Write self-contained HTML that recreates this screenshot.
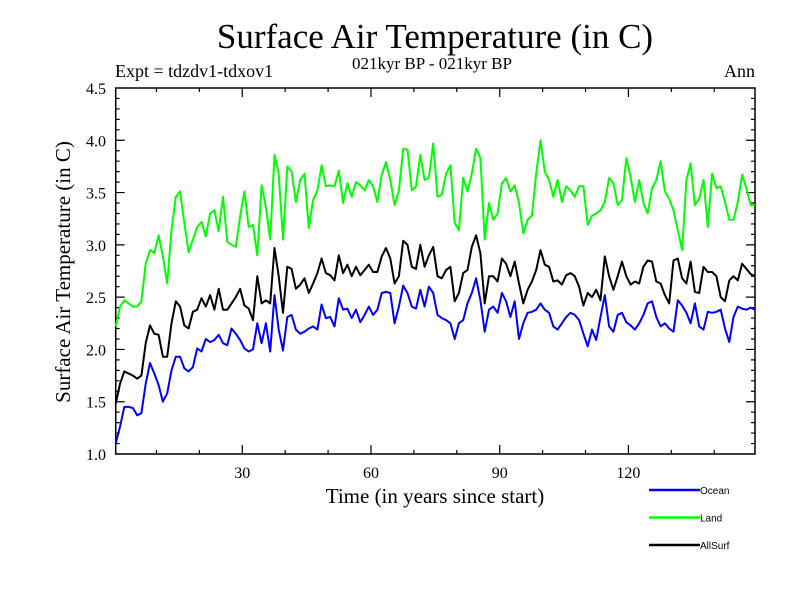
<!DOCTYPE html>
<html><head><meta charset="utf-8"><style>
body{margin:0;background:#fff;}
svg text{font-family:"Liberation Serif",serif;fill:#000;}
</style></head><body>
<svg id="chart" width="800" height="600" xmlns="http://www.w3.org/2000/svg">
<text x="435" y="48" font-size="35" text-anchor="middle">Surface Air Temperature (in C)</text>
<text x="432" y="69" font-size="17" text-anchor="middle">021kyr BP - 021kyr BP</text>
<text x="115" y="77" font-size="18">Expt = tdzdv1-tdxov1</text>
<text x="755" y="77" font-size="18" text-anchor="end">Ann</text>
<text x="435" y="503" font-size="21" text-anchor="middle">Time (in years since start)</text>
<text transform="translate(70,272) rotate(-90)" font-size="21" text-anchor="middle">Surface Air Temperature (in C)</text>
<g id="axes"></g>
<g id="series"></g>
<g id="legend" font-family="Liberation Sans"></g>
</svg>
<script>
const categoriesStart = 0.5;
const ocean = [1.10,1.26,1.45,1.45,1.44,1.37,1.39,1.67,1.87,1.77,
1.66,1.50,1.58,1.80,1.93,1.93,1.82,1.79,1.83,2.01,
1.98,2.10,2.07,2.09,2.14,2.06,2.04,2.20,2.15,2.09,
2.01,1.98,2.00,2.25,2.06,2.25,1.98,2.52,2.19,1.99,
2.31,2.33,2.19,2.15,2.17,2.20,2.22,2.19,2.43,2.30,
2.31,2.22,2.49,2.38,2.39,2.30,2.38,2.26,2.33,2.41,
2.33,2.38,2.54,2.55,2.54,2.25,2.41,2.61,2.54,2.41,
2.39,2.57,2.41,2.60,2.54,2.33,2.30,2.28,2.25,2.10,
2.25,2.28,2.44,2.54,2.68,2.47,2.17,2.38,2.41,2.35,
2.54,2.46,2.31,2.46,2.10,2.25,2.35,2.36,2.38,2.44,
2.38,2.35,2.22,2.19,2.25,2.31,2.35,2.33,2.28,2.15,
2.03,2.19,2.09,2.31,2.52,2.22,2.17,2.33,2.35,2.26,
2.23,2.19,2.25,2.33,2.44,2.46,2.31,2.22,2.25,2.20,
2.17,2.47,2.42,2.35,2.25,2.44,2.22,2.19,2.36,2.35,
2.36,2.38,2.20,2.07,2.31,2.41,2.39,2.38,2.40,2.38];
const land = [2.22,2.41,2.47,2.44,2.41,2.41,2.46,2.82,2.95,2.92,
3.09,2.89,2.63,3.14,3.46,3.51,3.21,2.93,3.05,3.17,
3.22,3.08,3.30,3.33,3.13,3.46,3.03,3.00,2.98,3.27,
3.51,3.17,3.19,2.90,3.57,3.36,3.05,3.86,3.68,3.05,
3.75,3.70,3.41,3.62,3.68,3.16,3.43,3.52,3.76,3.56,
3.57,3.56,3.71,3.40,3.59,3.46,3.60,3.57,3.52,3.62,
3.56,3.41,3.67,3.79,3.62,3.38,3.52,3.92,3.91,3.52,
3.56,3.86,3.62,3.64,3.97,3.46,3.48,3.68,3.76,3.21,
3.14,3.64,3.51,3.68,3.92,3.83,3.05,3.40,3.24,3.30,
3.59,3.64,3.51,3.57,3.40,3.11,3.24,3.28,3.68,4.00,
3.70,3.62,3.46,3.62,3.41,3.56,3.52,3.46,3.56,3.56,
3.19,3.28,3.30,3.33,3.41,3.64,3.59,3.38,3.43,3.83,
3.65,3.41,3.62,3.40,3.30,3.54,3.62,3.80,3.51,3.44,
3.33,3.14,2.95,3.62,3.78,3.38,3.44,3.62,3.17,3.68,
3.54,3.56,3.41,3.24,3.24,3.41,3.67,3.54,3.38,3.38];
const allSurf = [1.48,1.67,1.79,1.77,1.75,1.72,1.75,2.06,2.23,2.15,
2.14,1.93,1.93,2.25,2.46,2.41,2.23,2.20,2.36,2.38,
2.49,2.41,2.52,2.38,2.58,2.38,2.38,2.44,2.50,2.58,
2.42,2.39,2.28,2.70,2.44,2.47,2.44,2.97,2.70,2.35,
2.79,2.77,2.58,2.62,2.68,2.54,2.63,2.73,2.87,2.73,
2.71,2.66,2.90,2.73,2.81,2.70,2.79,2.71,2.76,2.81,
2.74,2.74,2.89,2.97,2.87,2.63,2.70,3.04,3.00,2.79,
2.77,3.00,2.79,2.90,2.98,2.70,2.68,2.76,2.79,2.46,
2.54,2.73,2.76,2.98,3.09,2.92,2.44,2.70,2.70,2.65,
2.87,2.82,2.70,2.84,2.63,2.44,2.57,2.65,2.76,2.95,
2.81,2.79,2.65,2.66,2.62,2.71,2.73,2.70,2.60,2.42,
2.54,2.50,2.57,2.47,2.89,2.70,2.57,2.70,2.84,2.70,
2.62,2.65,2.63,2.79,2.85,2.84,2.65,2.63,2.52,2.44,
2.85,2.87,2.68,2.63,2.84,2.55,2.54,2.79,2.74,2.74,
2.70,2.50,2.46,2.66,2.70,2.66,2.82,2.77,2.72,2.70];
const xTickLabels = [30,60,90,120];
const yTickLabels = ["1.0","1.5","2.0","2.5","3.0","3.5","4.0","4.5"];
const seriesNames = ["Ocean","Land","AllSurf"];

const L=115.7,R=755,T=88,B=454, X0=0.5,X1=149.5, Y0=1.0,Y1=4.5;
const xs=v=>L+(v-X0)/(X1-X0)*(R-L);
const ys=v=>B-(v-Y0)/(Y1-Y0)*(B-T);
const NS="http://www.w3.org/2000/svg";
function mk(tag,parent){const e=document.createElementNS(NS,tag);parent.appendChild(e);return e;}
const axes=document.getElementById('axes');
const frame=mk('rect',axes);


frame.setAttribute('x',L);frame.setAttribute('y',T);frame.setAttribute('width',R-L);frame.setAttribute('height',B-T);
frame.setAttribute('fill','none');frame.setAttribute('stroke','#000');frame.setAttribute('stroke-width','1.5');
let d='';
for(let v=10;v<150;v+=10){const x=xs(v);const len=(v%30===0)?9:4;d+=`M${x},${B}v${-len}M${x},${T}v${len}`;}
for(let k=11;k<45;k++){const v=k/10;const y=ys(v);const len=(k%5===0)?9:4;d+=`M${L},${y}h${len}M${R},${y}h${-len}`;}
const ticks=mk('path',axes);


ticks.setAttribute('d',d);ticks.setAttribute('stroke','#000');ticks.setAttribute('stroke-width','1.2');
xTickLabels.forEach(v=>{const t=mk('text',axes);


t.setAttribute('x',xs(v));t.setAttribute('y',478);t.setAttribute('font-size','16');t.setAttribute('text-anchor','middle');t.textContent=v;});
yTickLabels.forEach(s=>{const t=mk('text',axes);


t.setAttribute('x',106);t.setAttribute('y',ys(parseFloat(s))+6);t.setAttribute('font-size','16');t.setAttribute('text-anchor','end');t.textContent=s;});
const sg=document.getElementById('series');
const colors=["#0000ff","#00ff00","#000000"];
[ocean,land,allSurf].forEach((arr,si)=>{
 const p=mk('path',sg);
 
 
 p.setAttribute('d',arr.map((v,i)=>(i?'L':'M')+xs(categoriesStart+i).toFixed(1)+','+ys(v).toFixed(1)).join(''));
 p.setAttribute('fill','none');p.setAttribute('stroke',colors[si]);p.setAttribute('stroke-width','2');p.setAttribute('stroke-linejoin','round');
});
const lg=document.getElementById('legend');
seriesNames.forEach((n,i)=>{const y=490+i*27.5;
 const l=mk('line',lg);
 
 
 l.setAttribute('x1',649);l.setAttribute('x2',700);l.setAttribute('y1',y);l.setAttribute('y2',y);l.setAttribute('stroke',colors[i]);l.setAttribute('stroke-width','2.5');
 const t=mk('text',lg);
 
 
 t.setAttribute('x',700);t.setAttribute('y',y+4);t.setAttribute('font-size','10');t.setAttribute('style','font-family:"Liberation Sans",sans-serif');t.textContent=n;});
</script>
</body></html>
